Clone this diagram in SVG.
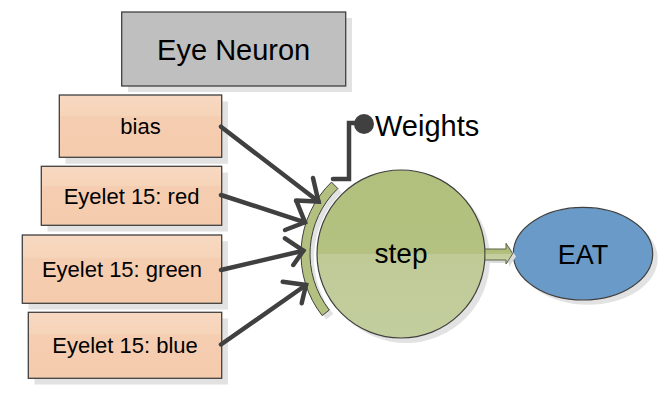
<svg xmlns="http://www.w3.org/2000/svg" width="671" height="402" viewBox="0 0 671 402">
<defs>
<linearGradient id="peach" x1="0" y1="0" x2="0" y2="1">
<stop offset="0" stop-color="#f7d8c1"/><stop offset="0.33" stop-color="#f6d4b9"/><stop offset="0.34" stop-color="#f5cdb0"/><stop offset="1" stop-color="#f5cbad"/>
</linearGradient>
<linearGradient id="green" x1="0" y1="0" x2="0" y2="1">
<stop offset="0" stop-color="#b2c07e"/><stop offset="0.5" stop-color="#b4c281"/><stop offset="0.5" stop-color="#bfca97"/><stop offset="1" stop-color="#c3ce9e"/>
</linearGradient>
<linearGradient id="garrow" x1="0" y1="0" x2="0" y2="1">
<stop offset="0" stop-color="#a9b877"/><stop offset="0.5" stop-color="#b2c07e"/><stop offset="0.5" stop-color="#c2cc9c"/><stop offset="1" stop-color="#c8d2a6"/>
</linearGradient>
</defs>
<style>
.shadow{fill:#e2e2e2;stroke:none}
.box{fill:url(#peach);stroke:#404040;stroke-width:1.3}
.lbl{font-family:"Liberation Sans",Arial,sans-serif;fill:#000;text-anchor:middle}
.wire{fill:none;stroke:#404040;stroke-width:4.5;stroke-linecap:round;stroke-linejoin:miter}
</style>

<g id="eye-neuron">
<rect class="shadow" x="128" y="18" width="224" height="74"/>
<rect x="121.7" y="12" width="224" height="74" fill="#bfbfbf" stroke="#404040" stroke-width="1.3"/>
<text class="lbl" x="233.7" y="59.5" font-size="29">Eye Neuron</text>
</g>

<g id="bias">
<rect class="shadow" x="65.5" y="101.5" width="162.4" height="62.3"/>
<rect class="box" x="59.3" y="95" width="162.4" height="62.3"/>
<text class="lbl" x="140.5" y="133.5" font-size="22">bias</text>
</g>

<g id="red">
<rect class="shadow" x="47.5" y="172.5" width="180.4" height="59"/>
<rect class="box" x="41.3" y="166.3" width="180.4" height="59"/>
<text class="lbl" x="131.5" y="203.5" font-size="22">Eyelet 15: red</text>
</g>

<g id="green-in">
<rect class="shadow" x="28.5" y="241.2" width="199.4" height="68.3"/>
<rect class="box" x="22.3" y="235" width="199.4" height="68.3"/>
<text class="lbl" x="122" y="276.5" font-size="22">Eyelet 15: green</text>
</g>

<g id="blue">
<rect class="shadow" x="34.5" y="318.5" width="193.4" height="66"/>
<rect class="box" x="28.3" y="312.3" width="193.4" height="66"/>
<text class="lbl" x="125" y="352.5" font-size="22">Eyelet 15: blue</text>
</g>

<g id="weights-arc">
<path class="shadow" transform="translate(4,4)" d="M331.5,182.1 A100,100 0 0 0 322.2,315.6 L329.3,310 A91,91 0 0 1 337.8,188.5 Z"/>
</g>

<g id="step">
<circle class="shadow" cx="406" cy="259" r="84"/>
<circle cx="401" cy="254" r="84" fill="url(#green)" stroke="#404040" stroke-width="1.2"/>
<text class="lbl" x="401" y="263" font-size="28">step</text>
</g>

<g id="weights-arc-front">
<path d="M331.5,182.1 A100,100 0 0 0 322.2,315.6 L329.3,310 A91,91 0 0 1 337.8,188.5 Z" fill="#b3c07f" stroke="#404040" stroke-width="1"/>
</g>

<g id="eat">
<ellipse class="shadow" cx="588" cy="258.5" rx="69.7" ry="46.3"/>
<ellipse cx="583" cy="253.7" rx="69.7" ry="46.3" fill="#6a9bc8" stroke="#404040" stroke-width="1.2"/>
<text class="lbl" x="583" y="263.5" font-size="27">EAT</text>
</g>

<g id="weights">
<circle cx="364" cy="124" r="10" fill="#404040"/>
<text x="375" y="136" font-family="Liberation Sans, Arial, sans-serif" font-size="29" fill="#000">Weights</text>
</g>

<g id="connectors">
<polyline class="wire" points="333,179 349,179 349,123 360,123"/>
<line class="wire" x1="221" y1="126.7" x2="318.5" y2="201.5"/>
<polyline class="wire" points="313,178 318.5,201.5 296,200.5"/>
<line class="wire" x1="221" y1="195" x2="305" y2="222.3"/>
<polyline class="wire" points="296.7,201.7 305,222.3 285,230"/>
<line class="wire" x1="221" y1="270" x2="303.3" y2="250.7"/>
<polyline class="wire" points="285,238.3 303.3,250.7 293.3,265"/>
<line class="wire" x1="221" y1="344.5" x2="306" y2="285"/>
<polyline class="wire" points="282.7,281.7 306,285 301.7,303.3"/>
<path d="M488,252 L509,252 L509,246 L516,256.5 L509,267 L509,263 L488,263 Z" fill="#dcdcdc" stroke="none"/>
<path d="M485,249 L506,249 L506,243.3 L512.7,253.7 L506,264 L506,260 L485,260 Z" fill="url(#garrow)" stroke="#5a6440" stroke-width="1"/>
</g>
</svg>
